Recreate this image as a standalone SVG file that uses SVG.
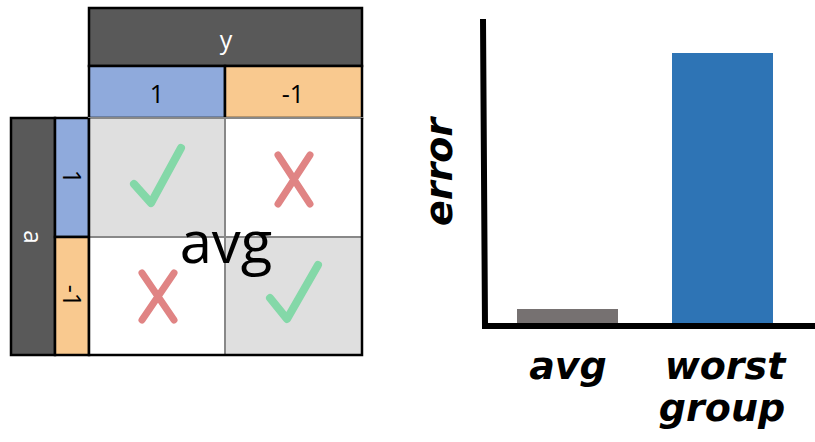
<svg xmlns="http://www.w3.org/2000/svg" width="815" height="442" viewBox="0 0 815 442">
  <style>
    .hdr { fill: #595959; stroke: #000; stroke-width: 2.5; }
    .blue { fill: #8faadc; stroke: #000; stroke-width: 2.5; }
    .orange { fill: #f9c98f; stroke: #000; stroke-width: 2.5; }
    .lbl { font-family: "Open Sans", "Liberation Sans", sans-serif; font-size: 25px; text-anchor: middle; dominant-baseline: central; }
    .white { fill: #ffffff; }
    .check { fill: none; stroke: #84d8a8; stroke-width: 8; stroke-linecap: round; stroke-linejoin: round; }
    .cross { fill: none; stroke: #e08484; stroke-width: 7; stroke-linecap: round; }
    .hand { font-family: "DejaVu Sans", sans-serif; font-weight: bold; font-style: italic; font-size: 38px; text-anchor: middle; fill: #000; }
  </style>

  <!-- column header -->
  <g id="col-y">
    <rect class="hdr" x="89" y="8" width="273" height="58"/>
    <text class="lbl white" x="226" y="39">y</text>
  </g>
  <g id="col-pos">
    <rect class="blue" x="89" y="66" width="136" height="52"/>
    <text class="lbl" x="157" y="93">1</text>
  </g>
  <g id="col-neg">
    <rect class="orange" x="225" y="66" width="137" height="52"/>
    <text class="lbl" x="293" y="93">-1</text>
  </g>

  <!-- row header -->
  <g id="row-a">
    <rect class="hdr" x="11" y="118" width="44" height="237"/>
    <text class="lbl white" transform="translate(34,237) rotate(90)">a</text>
  </g>
  <g id="row-pos">
    <rect class="blue" x="55" y="118" width="34" height="119"/>
    <text class="lbl" transform="translate(73,177) rotate(90)">1</text>
  </g>
  <g id="row-neg">
    <rect class="orange" x="55" y="237" width="34" height="118"/>
    <text class="lbl" transform="translate(73,296) rotate(90)">-1</text>
  </g>

  <!-- cells -->
  <g id="cells">
    <rect x="89" y="118" width="136" height="119" fill="#dfdfdf" stroke="#888" stroke-width="2"/>
    <rect x="225" y="118" width="137" height="119" fill="#ffffff" stroke="#888" stroke-width="2"/>
    <rect x="89" y="237" width="136" height="118" fill="#ffffff" stroke="#888" stroke-width="2"/>
    <rect x="225" y="237" width="137" height="118" fill="#dfdfdf" stroke="#888" stroke-width="2"/>
    <path d="M89,118 V355 H362 V118" fill="none" stroke="#000" stroke-width="2.5"/>
  </g>
  <g id="marks">
    <path class="check" d="M134,184 L151,203 L181,148"/>
    <path class="check" d="M270,298 L287,319 L318,265"/>
    <path class="cross" d="M278,155 L310,204 M310,155 L278,204"/>
    <path class="cross" d="M142,273 L174,320 M174,273 L142,320"/>
  </g>
  <g id="avg-label">
    <text x="226" y="263" font-family="Open Sans, Liberation Sans, sans-serif" font-size="58" text-anchor="middle" fill="#000">avg</text>
  </g>

  <!-- bar chart -->
  <g id="bars">
    <rect x="517" y="309" width="101" height="14" fill="#767171"/>
    <rect x="672" y="53" width="101" height="270" fill="#2e74b5"/>
  </g>
  <g id="axes">
    <path d="M483,19 L485,326 L815,326" fill="none" stroke="#000" stroke-width="6"/>
  </g>
  <g id="axis-labels">
    <text class="hand" transform="translate(452,172) rotate(-90)">error</text>
    <text class="hand" x="568" y="379">avg</text>
    <text class="hand" x="725" y="379">worst</text>
    <text class="hand" x="722" y="421">group</text>
  </g>
</svg>
